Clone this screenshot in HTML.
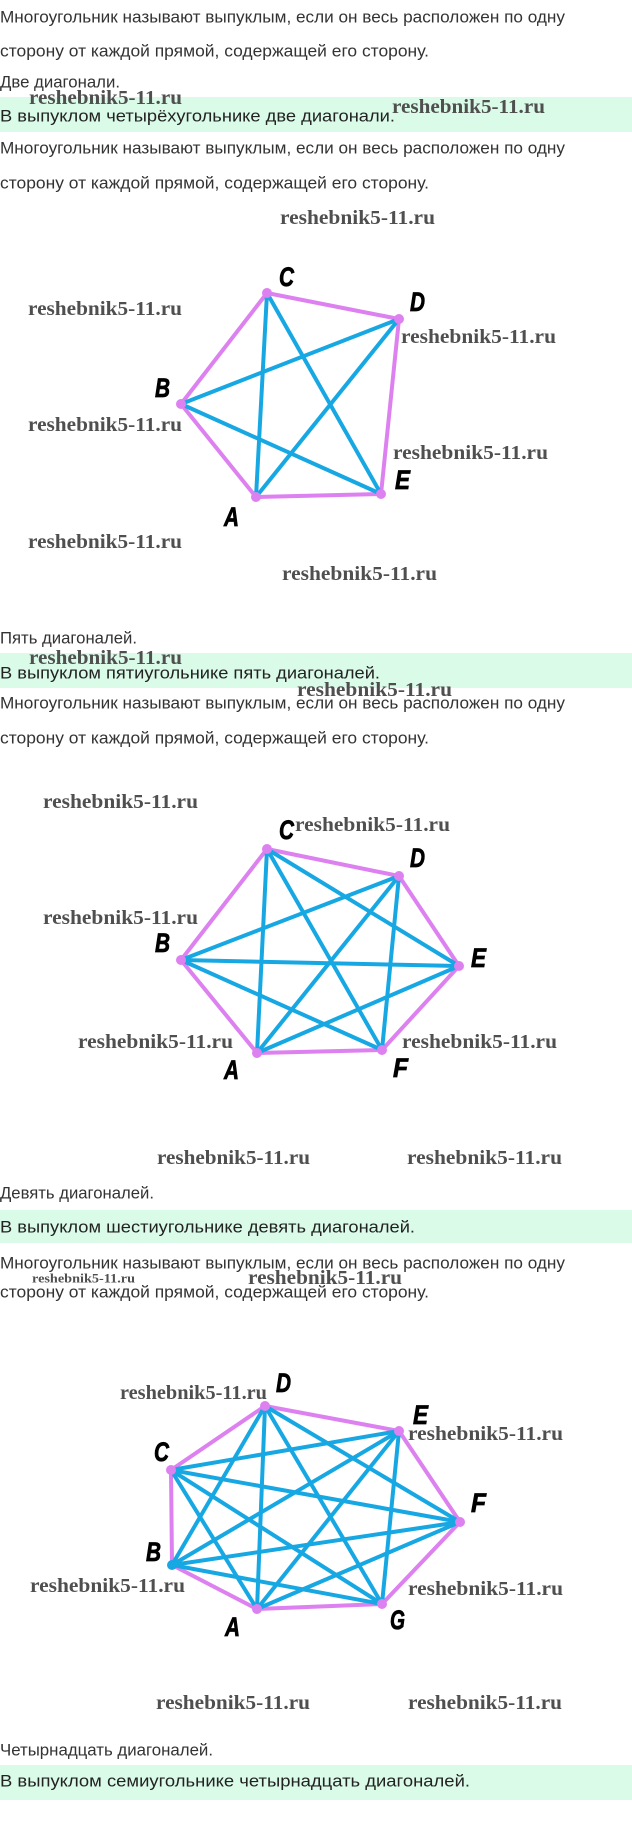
<!DOCTYPE html>
<html><head><meta charset="utf-8"><style>
html,body{margin:0;padding:0;background:#fff;}
svg{display:block;}
.t{font-family:"Liberation Sans",sans-serif;font-size:17px;fill:#333;dominant-baseline:central;}
.g{fill:#222;}
.w{font-family:"Liberation Serif",serif;font-weight:bold;font-size:20px;fill:#4f4f4f;dominant-baseline:central;}
.l{font-family:"Liberation Sans",sans-serif;font-style:italic;font-weight:bold;font-size:27px;fill:#000;dominant-baseline:central;stroke:#000;stroke-width:0.8;}
.s{stroke:#dd80f0;stroke-width:4;fill:none;stroke-linejoin:round;}
.d{stroke:#17a8e3;stroke-width:4;stroke-linecap:round;}
.p{fill:#dd80f0;}
</style></head><body>
<svg width="632" height="1833" viewBox="0 0 632 1833" xmlns="http://www.w3.org/2000/svg">
<rect x="0" y="97" width="632" height="35" fill="#dbfbe9"/>
<rect x="0" y="653" width="632" height="35" fill="#dbfbe9"/>
<rect x="0" y="1210" width="632" height="33" fill="#dbfbe9"/>
<rect x="0" y="1765" width="632" height="35" fill="#dbfbe9"/>

<text class="t" x="0" y="17" textLength="565" lengthAdjust="spacingAndGlyphs">Многоугольник называют выпуклым, если он весь расположен по одну</text>
<text class="t" x="0" y="51" textLength="429" lengthAdjust="spacingAndGlyphs">сторону от каждой прямой, содержащей его сторону.</text>
<text class="t" x="0" y="82" textLength="120" lengthAdjust="spacingAndGlyphs">Две диагонали.</text>
<text class="t g" x="0" y="116" textLength="395" lengthAdjust="spacingAndGlyphs">В выпуклом четырёхугольнике две диагонали.</text>
<text class="t" x="0" y="148" textLength="565" lengthAdjust="spacingAndGlyphs">Многоугольник называют выпуклым, если он весь расположен по одну</text>
<text class="t" x="0" y="183" textLength="429" lengthAdjust="spacingAndGlyphs">сторону от каждой прямой, содержащей его сторону.</text>

<text class="t" x="0" y="638" textLength="137" lengthAdjust="spacingAndGlyphs">Пять диагоналей.</text>
<text class="t g" x="0" y="673" textLength="380" lengthAdjust="spacingAndGlyphs">В выпуклом пятиугольнике пять диагоналей.</text>
<text class="t" x="0" y="703" textLength="565" lengthAdjust="spacingAndGlyphs">Многоугольник называют выпуклым, если он весь расположен по одну</text>
<text class="t" x="0" y="738" textLength="429" lengthAdjust="spacingAndGlyphs">сторону от каждой прямой, содержащей его сторону.</text>

<text class="t" x="0" y="1193" textLength="154" lengthAdjust="spacingAndGlyphs">Девять диагоналей.</text>
<text class="t g" x="0" y="1227" textLength="415" lengthAdjust="spacingAndGlyphs">В выпуклом шестиугольнике девять диагоналей.</text>
<text class="t" x="0" y="1263" textLength="565" lengthAdjust="spacingAndGlyphs">Многоугольник называют выпуклым, если он весь расположен по одну</text>
<text class="t" x="0" y="1292" textLength="429" lengthAdjust="spacingAndGlyphs">сторону от каждой прямой, содержащей его сторону.</text>

<text class="t" x="0" y="1750" textLength="213" lengthAdjust="spacingAndGlyphs">Четырнадцать диагоналей.</text>
<text class="t g" x="0" y="1781" textLength="470" lengthAdjust="spacingAndGlyphs">В выпуклом семиугольнике четырнадцать диагоналей.</text>

<!-- Pentagon -->
<polygon class="s" points="256,497 181,404 267,293 399,319 381,494"/>
<g class="d">
<line x1="256" y1="497" x2="267" y2="293"/><line x1="256" y1="497" x2="399" y2="319"/>
<line x1="181" y1="404" x2="399" y2="319"/><line x1="181" y1="404" x2="381" y2="494"/>
<line x1="267" y1="293" x2="381" y2="494"/>
</g>
<g class="p"><circle cx="256" cy="497" r="5"/><circle cx="181" cy="404" r="5"/><circle cx="267" cy="293" r="5"/><circle cx="399" cy="319" r="5"/><circle cx="381" cy="494" r="5"/></g>
<text class="l" x="279" y="277" textLength="15" lengthAdjust="spacingAndGlyphs">C</text>
<text class="l" x="410" y="302" textLength="15" lengthAdjust="spacingAndGlyphs">D</text>
<text class="l" x="155" y="388" textLength="15" lengthAdjust="spacingAndGlyphs">B</text>
<text class="l" x="224" y="517" textLength="15" lengthAdjust="spacingAndGlyphs">A</text>
<text class="l" x="395" y="480" textLength="15" lengthAdjust="spacingAndGlyphs">E</text>

<!-- Hexagon -->
<polygon class="s" points="257,1053 181,960 267,849 399,876 459,966 382,1050"/>
<g class="d">
<line x1="257" y1="1053" x2="267" y2="849"/><line x1="257" y1="1053" x2="399" y2="876"/><line x1="257" y1="1053" x2="459" y2="966"/>
<line x1="181" y1="960" x2="399" y2="876"/><line x1="181" y1="960" x2="459" y2="966"/><line x1="181" y1="960" x2="382" y2="1050"/>
<line x1="267" y1="849" x2="459" y2="966"/><line x1="267" y1="849" x2="382" y2="1050"/>
<line x1="399" y1="876" x2="382" y2="1050"/>
</g>
<g class="p"><circle cx="257" cy="1053" r="5"/><circle cx="181" cy="960" r="5"/><circle cx="267" cy="849" r="5"/><circle cx="399" cy="876" r="5"/><circle cx="459" cy="966" r="5"/><circle cx="382" cy="1050" r="5"/></g>
<text class="l" x="279" y="830" textLength="15" lengthAdjust="spacingAndGlyphs">C</text>
<text class="l" x="410" y="858" textLength="15" lengthAdjust="spacingAndGlyphs">D</text>
<text class="l" x="471" y="958" textLength="15" lengthAdjust="spacingAndGlyphs">E</text>
<text class="l" x="393" y="1068" textLength="15" lengthAdjust="spacingAndGlyphs">F</text>
<text class="l" x="224" y="1070" textLength="15" lengthAdjust="spacingAndGlyphs">A</text>
<text class="l" x="155" y="943" textLength="15" lengthAdjust="spacingAndGlyphs">B</text>

<!-- Heptagon -->
<polygon class="s" points="257,1609 172,1565 171,1470 265,1406 399,1431 460,1522 382,1604"/>
<g class="d">
<line x1="257" y1="1609" x2="171" y2="1470"/><line x1="257" y1="1609" x2="265" y2="1406"/><line x1="257" y1="1609" x2="399" y2="1431"/><line x1="257" y1="1609" x2="460" y2="1522"/>
<line x1="172" y1="1565" x2="265" y2="1406"/><line x1="172" y1="1565" x2="399" y2="1431"/><line x1="172" y1="1565" x2="460" y2="1522"/><line x1="172" y1="1565" x2="382" y2="1604"/>
<line x1="171" y1="1470" x2="399" y2="1431"/><line x1="171" y1="1470" x2="460" y2="1522"/><line x1="171" y1="1470" x2="382" y2="1604"/>
<line x1="265" y1="1406" x2="460" y2="1522"/><line x1="265" y1="1406" x2="382" y2="1604"/>
<line x1="399" y1="1431" x2="382" y2="1604"/>
</g>
<g class="p"><circle cx="257" cy="1609" r="5"/><circle cx="171" cy="1470" r="5"/><circle cx="265" cy="1406" r="5"/><circle cx="399" cy="1431" r="5"/><circle cx="460" cy="1522" r="5"/><circle cx="382" cy="1604" r="5"/></g>
<circle cx="172" cy="1565" r="5" fill="#17a8e3"/>
<text class="l" x="276" y="1383" textLength="15" lengthAdjust="spacingAndGlyphs">D</text>
<text class="l" x="413" y="1415" textLength="15" lengthAdjust="spacingAndGlyphs">E</text>
<text class="l" x="471" y="1503" textLength="15" lengthAdjust="spacingAndGlyphs">F</text>
<text class="l" x="390" y="1620" textLength="15" lengthAdjust="spacingAndGlyphs">G</text>
<text class="l" x="225" y="1627" textLength="15" lengthAdjust="spacingAndGlyphs">A</text>
<text class="l" x="146" y="1552" textLength="15" lengthAdjust="spacingAndGlyphs">B</text>
<text class="l" x="154" y="1452" textLength="15" lengthAdjust="spacingAndGlyphs">C</text>

<!-- Watermarks -->
<g class="w">
<text x="29" y="98" textLength="153" lengthAdjust="spacingAndGlyphs">reshebnik5-11.ru</text>
<text x="392" y="107" textLength="153" lengthAdjust="spacingAndGlyphs">reshebnik5-11.ru</text>
<text x="280" y="218" textLength="155" lengthAdjust="spacingAndGlyphs">reshebnik5-11.ru</text>
<text x="28" y="309" textLength="154" lengthAdjust="spacingAndGlyphs">reshebnik5-11.ru</text>
<text x="401" y="337" textLength="155" lengthAdjust="spacingAndGlyphs">reshebnik5-11.ru</text>
<text x="28" y="425" textLength="154" lengthAdjust="spacingAndGlyphs">reshebnik5-11.ru</text>
<text x="393" y="453" textLength="155" lengthAdjust="spacingAndGlyphs">reshebnik5-11.ru</text>
<text x="28" y="542" textLength="154" lengthAdjust="spacingAndGlyphs">reshebnik5-11.ru</text>
<text x="282" y="574" textLength="155" lengthAdjust="spacingAndGlyphs">reshebnik5-11.ru</text>
<text x="29" y="658" textLength="153" lengthAdjust="spacingAndGlyphs">reshebnik5-11.ru</text>
<text x="297" y="690" textLength="155" lengthAdjust="spacingAndGlyphs">reshebnik5-11.ru</text>
<text x="43" y="802" textLength="155" lengthAdjust="spacingAndGlyphs">reshebnik5-11.ru</text>
<text x="295" y="825" textLength="155" lengthAdjust="spacingAndGlyphs">reshebnik5-11.ru</text>
<text x="43" y="918" textLength="155" lengthAdjust="spacingAndGlyphs">reshebnik5-11.ru</text>
<text x="78" y="1042" textLength="155" lengthAdjust="spacingAndGlyphs">reshebnik5-11.ru</text>
<text x="402" y="1042" textLength="155" lengthAdjust="spacingAndGlyphs">reshebnik5-11.ru</text>
<text x="157" y="1158" textLength="153" lengthAdjust="spacingAndGlyphs">reshebnik5-11.ru</text>
<text x="407" y="1158" textLength="155" lengthAdjust="spacingAndGlyphs">reshebnik5-11.ru</text>
<text x="32" y="1278" textLength="103" lengthAdjust="spacingAndGlyphs" style="font-size:13px">reshebnik5-11.ru</text>
<text x="248" y="1278" textLength="154" lengthAdjust="spacingAndGlyphs">reshebnik5-11.ru</text>
<text x="120" y="1393" textLength="147" lengthAdjust="spacingAndGlyphs">reshebnik5-11.ru</text>
<text x="408" y="1434" textLength="155" lengthAdjust="spacingAndGlyphs">reshebnik5-11.ru</text>
<text x="30" y="1586" textLength="155" lengthAdjust="spacingAndGlyphs">reshebnik5-11.ru</text>
<text x="408" y="1589" textLength="155" lengthAdjust="spacingAndGlyphs">reshebnik5-11.ru</text>
<text x="156" y="1703" textLength="154" lengthAdjust="spacingAndGlyphs">reshebnik5-11.ru</text>
<text x="408" y="1703" textLength="154" lengthAdjust="spacingAndGlyphs">reshebnik5-11.ru</text>
</g>
</svg>
</body></html>
